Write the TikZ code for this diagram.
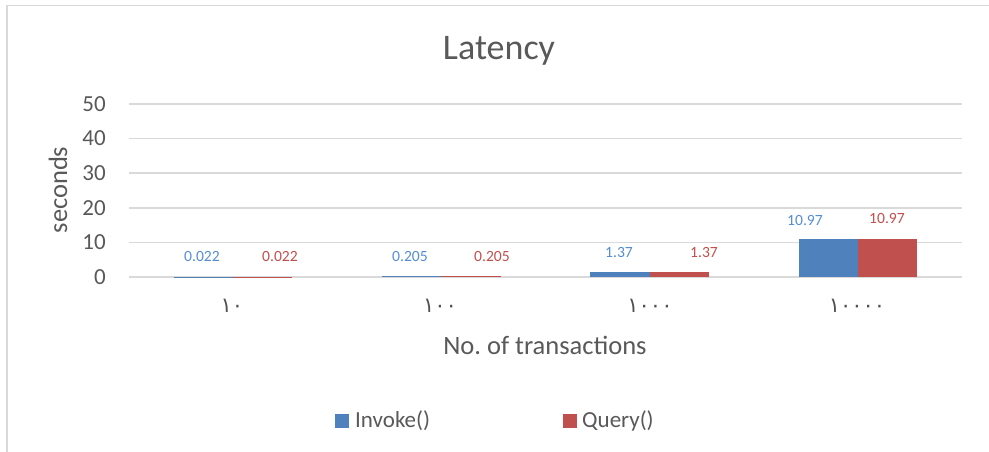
\documentclass[tikz,border=0pt]{standalone}
\usepackage{fontspec}
\setmainfont{Carlito}
\newfontfamily\arabicfont[Script=Arabic]{DejaVu Sans}
\definecolor{txtgrey}{HTML}{595959}
\definecolor{gridgrey}{HTML}{D9D9D9}
\definecolor{barblue}{HTML}{4F81BD}
\definecolor{barred}{HTML}{C0504D}
\definecolor{lblblue}{HTML}{558ED5}
\definecolor{lblred}{HTML}{C4504D}
\begin{document}
\begin{tikzpicture}[x=1pt,y=-1pt,
  gridline/.style={draw=gridgrey,line width=1.5pt},
  ticklbl/.style={anchor=east,inner sep=0pt,text=txtgrey,font=\fontsize{23}{26}\selectfont},
  vallbl/.style={inner sep=0pt,font=\fontsize{15.6}{18}\selectfont},
  catlbl/.style={inner sep=0pt,text=txtgrey!90!black,font=\arabicfont\fontsize{21}{24}\selectfont},
  axtitle/.style={inner sep=0pt,text=txtgrey,font=\fontsize{26.5}{30}\selectfont},
  legtext/.style={anchor=west,inner sep=0pt,text=txtgrey,font=\fontsize{23}{26}\selectfont}]
\useasboundingbox (0,0) rectangle (989,452);
\fill[white] (0,0) rectangle (989,452);
% chart border
\draw[gridgrey,line width=1.5pt] (7,452) -- (7,5.5) -- (989,5.5);
% title
\node[inner sep=0pt,text=txtgrey,font=\fontsize{36}{40}\selectfont] (title) at (499,51) {Latency};
% gridlines
\foreach \v/\yy in {0/277,10/242.4,20/207.8,30/173.2,40/138.6,50/104}{
  \draw[gridline] (129,\yy) -- (962,\yy);
  \node[ticklbl] (tick\v) at (106,\yy) {\v};
}
% bars
\foreach \c/\h in {233.1/0.076,441.4/0.71,649.6/4.74,857.9/37.96}{
  \fill[barblue] (\c-59.3,277) rectangle (\c,277-\h);
  \fill[barred] (\c,277) rectangle (\c+59.3,277-\h);
}
% value labels
\node[vallbl,text=lblblue] (b1) at (202,256) {0.022};
\node[vallbl,text=lblred] (r1) at (280,256) {0.022};
\node[vallbl,text=lblblue] (b2) at (410,256) {0.205};
\node[vallbl,text=lblred] (r2) at (492,256) {0.205};
\node[vallbl,text=lblblue] (b3) at (619,252) {1.37};
\node[vallbl,text=lblred] (r3) at (704,252) {1.37};
\node[vallbl,text=lblblue] (b4) at (805,220) {10.97};
\node[vallbl,text=lblred] (r4) at (887,218) {10.97};
% category labels
\node[catlbl] (c1) at (232,306) {١٠};
\node[catlbl] (c2) at (440,306) {١٠٠};
\node[catlbl] (c3) at (650,306) {١٠٠٠};
\node[catlbl] (c4) at (857,306) {١٠٠٠٠};
% axis titles
\node[axtitle,rotate=90] (ytitle) at (58,190) {seconds};
\node[axtitle] (xtitle) at (545,345) {No.\ of transactions};
% legend
\fill[barblue] (335,414) rectangle (349,428);
\node[legtext] (leg1) at (355,421) {Invoke()};
\fill[barred] (563,414) rectangle (577,428);
\node[legtext] (leg2) at (582,421) {Query()};
\end{tikzpicture}
\end{document}
